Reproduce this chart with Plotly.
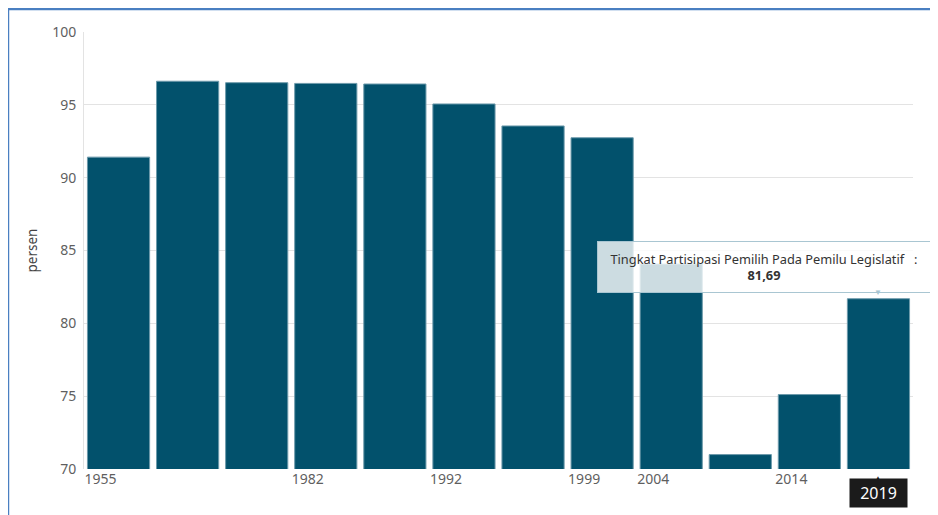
import plotly.graph_objects as go

years = ["1955", "1971", "1977", "1982", "1987", "1992", "1997", "1999", "2004", "2009", "2014", "2019"]
values = [91.41, 96.62, 96.52, 96.47, 96.43, 95.06, 93.55, 92.74, 84.07, 70.99, 75.11, 81.69]
shown_ticks = ["1955", "1982", "1992", "1999", "2004", "2014"]
highlight_year = "2019"
series_name = "Tingkat Partisipasi Pemilih Pada Pemilu Legislatif"
y_title = "persen"

FONT = "Noto Sans, Segoe UI, sans-serif"
BAR = "#02516c"

fig = go.Figure()
fig.add_bar(
    x=years, y=values,
    marker=dict(color=BAR, line=dict(color="#6d9aab", width=1)),
    name=series_name,
)

hi_idx = years.index(highlight_year)
hi_val = values[hi_idx]
val_txt = f"{hi_val:.2f}".replace(".", ",")

# page body has an 8px margin, so the figure is 8px smaller on each side
fig.update_layout(
    width=930, height=507,
    margin=dict(l=76, r=25, t=24, b=46),
    paper_bgcolor="white", plot_bgcolor="white",
    bargap=0.1,
    showlegend=False,
    font=dict(family=FONT, size=12, color="#666666"),
    xaxis=dict(
        type="category",
        categoryorder="array", categoryarray=years,
        range=[-0.5, len(years) - 0.5],
        tickmode="array", tickvals=shown_ticks, ticktext=shown_ticks,
        ticklabelshift=-18,
        showgrid=False, zeroline=False, showline=False,
        tickfont=dict(size=14, color="#5f5f5f"),
        ticks="", automargin=False,
    ),
    yaxis=dict(
        range=[70, 100],
        tickvals=[70, 75, 80, 85, 90, 95, 100],
        gridcolor="#e3e3e3", gridwidth=1,
        showline=True, linecolor="#e3e3e3", linewidth=1,
        zeroline=False, automargin=False,
        tickfont=dict(size=14, color="#5f5f5f"),
        ticks="outside", ticklen=4, tickcolor="rgba(0,0,0,0)",
        title=dict(text=y_title, font=dict(size=13.5, color="#444444"), standoff=11),
    ),
)

# outer blue frame (screenshot border)
fig.add_shape(type="line", xref="paper", yref="paper",
              x0=-0.0917, x1=1.05, y0=1.0526, y1=1.0526,
              line=dict(color="#4a7fc1", width=2.5))
fig.add_shape(type="line", xref="paper", yref="paper",
              x0=-0.0917, x1=-0.0917, y0=1.0526, y1=-0.12,
              line=dict(color="#4a7fc1", width=2.5))

annotations = [
    # tooltip
    dict(
        x=hi_idx, y=hi_val, xref="x", yref="y",
        text=f"{series_name}   :<br><b>{val_txt}</b>",
        showarrow=False, xanchor="right", yanchor="bottom",
        xshift=53, yshift=6,
        width=326, height=44, align="center",
        bgcolor="rgba(255,255,255,0.8)", bordercolor="#a9c6d2", borderwidth=1, borderpad=3,
        font=dict(family=FONT, size=12.8, color="#333333"),
    ),
    dict(
        x=hi_idx, y=hi_val, xref="x", yref="y",
        text="▼", showarrow=False, xanchor="center", yanchor="bottom", yshift=0,
        font=dict(size=8, color="#a9c6d2"),
    ),
    # highlighted x label
    dict(
        x=hi_idx, y=0, xref="x", yref="paper",
        text=highlight_year, showarrow=False,
        xanchor="center", yanchor="top", yshift=-9,
        width=53, height=24, bgcolor="#1b1b1b", borderpad=2,
        font=dict(family=FONT, size=16, color="white"),
    ),
    dict(
        x=hi_idx, y=0, xref="x", yref="paper",
        text="▲", showarrow=False, xanchor="center", yanchor="top", yshift=-1,
        font=dict(size=8, color="#1b1b1b"),
    ),
]
fig.update_layout(annotations=annotations)

fig.write_html("out.html")
